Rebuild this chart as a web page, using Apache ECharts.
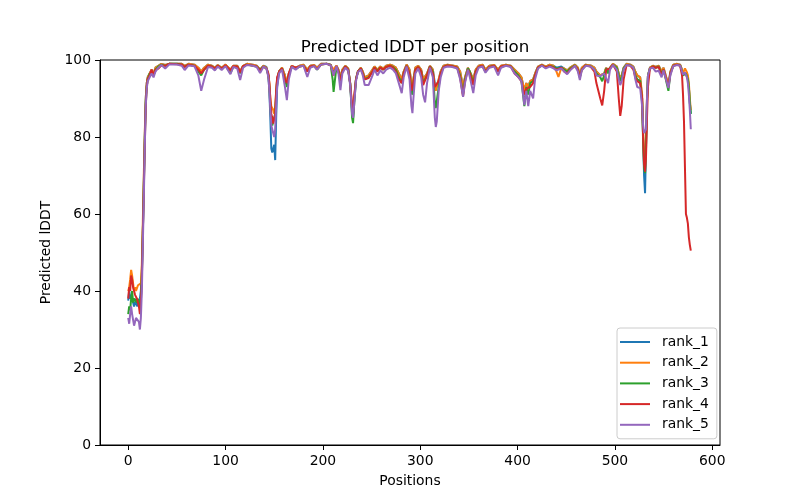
<!DOCTYPE html>
<html>
<head>
<meta charset="utf-8">
<script src="https://cdn.jsdelivr.net/npm/echarts@6/dist/echarts.min.js"></script>
<style>html,body{margin:0;padding:0;background:#fff;}#c{width:800px;height:500px;}</style>
</head>
<body>
<div id="c"></div>
<script>
const positions = [
0,1,2,3,4,5,6,7,8,9,
10,11,12,13,14,15,16,17,18,19,
20,22,24,26,28,31,34,38,42,50,
55,58,62,68,72,75,78,82,86,89,
92,96,100,105,108,112,115,118,122,128,
132,135.5,139,142,144,145,146,147,148,149,
150,151,152,153,155,158,161,163,165,168,
172,176,180,184,187,191,194,198,204,208,
210,211,212,214,216,218,220,223,226,228,
230,231,232,234,236,239,241,243,245,247,
249,251,253,256,259,262,265,269,272,275,
278,281,283,286,289,291,292,293,295,298,
301,303,305,307,310,313,315,316,317,319,
321,324,328,333,338,341,344,346,349,351,
354.5,357,360,364,367,371,376,380,383,388,
393,397,401,404,407,409,411,413,416,418,
421,425,429,433,437,440,442,445,448,451,
454,459,462,464,466,470,475,479,481,483,
485,487,489,491,493,495,498,502,504,505.5,
507,509,512,516,519,521,523,526,528,529,
530,531,532,533,534,536,539,542,545,548,
550,552,555,557,560,564,567,569,570,571,
572,573,574,575,576,577,578
];
const rank_1 = [
37.5,40,38,39,38,37,36,37,38,36,
36,37,38,40,45,55,68,80,90,94,
95.5,96.5,97.5,96.5,98,98.5,99,98.7,99,99,
99,98.5,99,98.8,98,97,98,98.8,98.5,98,
98.7,98,98.8,97.5,98.5,98.5,97,98.5,99,98.8,
98.5,97.5,98.5,98.2,96,92,85,77,76,77,
78,74,85,93,97,98,96,94,96.5,98.5,
98,98.5,98.8,97.5,98.5,98.7,98,99,99,98.8,
97.5,96.5,97.5,98.5,97.5,95.5,97.5,98.5,97.8,94,
87,85,89,95,97,98,97,95.5,95,96,
95.5,97.5,98.3,97.5,98.3,97.8,98.5,98.8,98.5,98,
96.5,95,97,98.8,97.5,94,93,95,98,98.5,
97.5,95,94.5,96.5,98.5,97.5,94,92.5,93,95,
97,98.5,98.8,98.6,98.3,97,93,95.5,98,97.5,
95,97.5,98.5,98.8,97.5,98.5,98.7,97.5,98.5,98.8,
98.5,97.5,96.5,95.5,92,94,93,94.5,95,96.5,
98.3,98.8,98.3,98.8,98.5,98,97.8,98.3,97.8,97.3,
98,98.8,98,96,98,98.8,98.6,98,97,96.5,
96,95.5,96.5,98,97,98,99,98.3,96.5,95,
96,98,99,98.8,98.3,97,96,95.5,90,80,
70,65.4,78,90,96,98,98.5,98.2,98.5,97,
98,97.5,93.5,97,98.8,99,98.8,97.5,96.5,96.5,
96.5,96.5,96,95,93,89,86
];
const rank_2 = [
40,41,43,45.5,44,42,40,41,40,40.5,
41.5,41,41,42,47,58,70,81,90,94,
95.5,96.5,97.5,96.5,98,98.5,99,98.7,99,99,
99,98.5,99,98.8,98,97,98,98.8,98.5,98,
98.7,98,98.8,97.5,98.5,98.5,97,98.5,99,98.8,
98.5,97.5,98.5,98,96,94,90,88,88.5,87,
86,88,92,95,97,98,96,94,96.5,98.5,
98,98.5,98.8,97.5,98.5,98.7,98,99,99,98.8,
97.5,97,97.5,98.5,97.5,95.5,97.5,98.5,97.8,94,
88,86,90,95,97,98,97,95.5,95,96,
95.5,97.5,98.3,97.5,98.3,97.8,98.5,98.8,98.5,98,
96.5,95,97,98.8,97.5,94,93,95,98,98.5,
97.5,95,94.5,96.5,98.5,97.5,93,92,92.5,95,
97,98.5,98.8,98.6,98.3,97,93,95.5,98,97.5,
95,97.5,98.5,98.8,97.5,98.5,98.7,97.5,98.5,98.8,
98.5,97.5,96.5,95.5,92,94,93,94.5,95,96.5,
98.3,98.8,98.3,98.8,98.5,97,95.6,98,97.8,97.3,
98,98.8,98,96,98,98.8,98.6,98,97,96.5,
96,95.5,96.5,98,97,98,99,98.3,96.5,95,
96,98,99,98.8,98.3,97,96,95.5,91,82,
74,72,80,90,96,98,98.5,98.2,98.5,97,
98,97.5,93.5,97,98.8,99,98.8,97.5,96.5,97,
97.8,97.5,96.8,96,94,90,87
];
const rank_3 = [
34,36,35,38,40,37,38,38,38,37,
38,37,36,38,44,55,67,79,89,93,
95,96.5,97,96,97.5,98.3,98.8,98.5,99,99,
98.8,98.2,98.8,98.5,97,96,97.5,98.5,98.3,97.8,
98.5,97.8,98.5,96.6,98.2,98.3,96.5,98.3,98.8,98.5,
98.3,97.5,98.3,97.8,96,93,88,84,83,84,
85,86,91,95,97,97.8,95,93,96,98.3,
97.7,98.3,98.5,97,98.2,98.5,97.5,98.8,99,98.7,
95,91.7,94,98.3,97,95,97,98.3,97.5,94,
85,83.6,88,95,97,97.8,96.5,95,94.5,95.5,
95,97,98,97.2,98,97.5,98.2,98.5,98.2,97.5,
95.5,94,96.5,98.5,96.5,92,91,94,97.5,98.2,
97,94,93.5,96,98.3,97,89,87.5,88,93,
96.5,98.2,98.6,98.4,98,96,91,95,97.8,97,
94,97,98.2,98.5,97,98.2,98.5,97,98.2,98.6,
98.3,97,96,94.5,88,93,91,94,94.5,96,
98,98.6,98,98.5,98.2,97.8,97.5,98,97.5,97,
97.8,98.6,97.5,95.5,97.5,98.6,98.4,97.5,96.5,96,
95.5,94.5,96,97.8,96.5,97.8,98.8,98,96,94.5,
95.5,97.8,98.8,98.6,98,96,95,94.5,89,79,
72,70.6,77,89,96,97.8,98.3,98,98.3,96.5,
97.5,97,92,96.5,98.5,98.8,98.6,97,96,96.5,
96.5,96.5,96,95,93,89,86
];
const rank_4 = [
38,41,40,44,43,41,40,39,39,38,
37,36,34,37,43,55,66,78,88,93,
95,96,97.5,96,97.5,97.8,98.6,98.5,99,98.9,
98.8,98.2,98.8,98.5,97.5,96.5,97.5,98.5,98.3,97.8,
98.5,97.8,98.6,97.3,98.4,98.3,96.8,98.4,98.8,98.6,
98.3,97.3,98.3,97.8,96.5,94,90,86,85,83.5,
84,86,92,95.5,97,97.8,95,94,96.5,98.4,
98,98.3,98.5,97,98.3,98.5,97.6,98.8,99,98.6,
97,96,97,98.4,97,94.5,97,98.3,97.5,94,
88,86,90,95,97,97.8,96.5,95,94.5,95.3,
95,97,98,97,98,97.5,98.2,98.5,98,97,
95,94,96.5,98.5,96.5,92,92,94,97.5,98.2,
97,93.5,93,96,98.3,96.5,93,93,93,94.5,
96.5,98.2,98.6,98.4,98,95.5,90.5,94.5,97.5,96.5,
93.5,97,98.2,98.5,97,98.2,98.5,97,98.3,98.6,
98.3,96.5,95.5,94.5,91,92.5,93,93,94,96,
98,98.6,98,98.5,98,97.5,97.5,98,97,96.5,
97.5,98.5,97.5,95.5,97.5,98.6,98.3,97,94,92,
90,88.2,92,97.5,97,97.8,98.8,97,90,85.5,
88,95,98.7,98.5,97.5,95.5,94.5,94,90,80,
73,71,75,85,93,97.8,98.3,98,98.2,96,
97.5,97,93,96.5,98.5,98.8,98.5,96,91,84,
72,60,59,57.5,54,52,50.5
];
const rank_5 = [
33,31.5,34,36,34,33.5,31,30.5,33,32.5,
33,32,30,33,40,52,64,77,88,92.5,
94.5,95.5,96.5,95.5,97,98,98.7,97.8,98.8,98.8,
98.5,97.4,98.6,98.4,96,92,95,98.2,98,97.3,
98.3,97.4,98.4,96.3,98.2,97.8,94.8,98,98.7,98.5,
98.2,96.6,98.3,97.8,95.5,92,87,83,82,81,
80,82,88,93,96.5,97.5,93,89.6,95,98.2,
97.5,98.3,98.5,95.6,98,98.4,97.5,98.8,99,98.6,
97,96,96.5,98.4,96.5,92.2,96.5,98,97.2,93.5,
86,85,88,94.5,96.8,97.5,96,93.5,93,93.5,
93,96,97.5,96,97.3,96.5,97.5,98,97.5,96.5,
94,91.4,95.5,98.3,95,88,86.2,90,96.5,97.8,
95.5,91,89,94,98,95.5,85,82.6,84,92,
95.5,98,98.3,98.2,97.8,95,90.4,94,97.5,95.5,
91.4,96,98,98.3,96.7,98,98.3,96,98,98.5,
98.2,96.5,95.5,94.5,88.3,92,88,92,90,95,
97.8,98.5,97.8,98.3,97.8,97.3,97.2,97.8,97,96.3,
97.3,98.5,97,94.8,97.3,98.5,98.3,97.5,96,95.5,
95.8,96,96.5,97,94,97.5,98.7,97.5,95,93.5,
94.5,97.5,98.7,98.5,98,95,93,92.7,88,83,
81,80.5,82,90,96,97.8,98,97,97.2,95.5,
97.3,96.8,92.7,96,98.4,98.7,98.5,97,96.2,96.5,
96.8,96.5,95.5,94,91,87,82
];
const seriesNames = ['rank_1','rank_2','rank_3','rank_4','rank_5'];
const seriesValues = [rank_1, rank_2, rank_3, rank_4, rank_5];
const colors = ['#1f77b4','#ff7f0e','#2ca02c','#d62728','#9467bd'];
const xTicks = [0,100,200,300,400,500,600];

seriesValues.forEach((arr, k) => {
  if (arr.length !== positions.length) throw new Error(seriesNames[k] + ' length ' + arr.length + ' vs ' + positions.length);
});

const FONT = 'DejaVu Sans';
const chart = echarts.init(document.getElementById('c'), null, {renderer: 'canvas'});
chart.setOption({
  animation: false,
  backgroundColor: '#fff',
  color: colors,
  title: {
    text: 'Predicted lDDT per position',
    left: 410, top: 34, textAlign: 'center',
    textStyle: {fontFamily: FONT, fontSize: 16.7, fontWeight: 'normal', color: '#000'}
  },
  grid: {left: 100, right: 80, top: 60, bottom: 55, show: true, borderColor: '#000', borderWidth: 1, backgroundColor: 'transparent'},
  xAxis: {
    type: 'value', min: -29, max: 608,
    name: 'Positions', nameLocation: 'middle', nameGap: 29,
    nameTextStyle: {fontFamily: FONT, fontSize: 13.9, color: '#000'},
    axisLine: {show: true, onZero: false, lineStyle: {color: '#000', width: 1}},
    axisTick: {show: true, length: 5, lineStyle: {color: '#000'}, customValues: xTicks},
    axisLabel: {fontFamily: FONT, fontSize: 13.9, color: '#000', margin: 9, customValues: xTicks},
    splitLine: {show: false}
  },
  yAxis: {
    type: 'value', min: 0, max: 100, interval: 20,
    name: 'Predicted lDDT', nameLocation: 'middle', nameGap: 39,
    nameTextStyle: {fontFamily: FONT, fontSize: 13.9, color: '#000'},
    axisLine: {show: true, onZero: false, lineStyle: {color: '#000', width: 1}},
    axisTick: {show: true, length: 5, lineStyle: {color: '#000'}},
    axisLabel: {fontFamily: FONT, fontSize: 13.9, color: '#000', margin: 9},
    splitLine: {show: false}
  },
  legend: {
    orient: 'vertical', left: 617, top: 328,
    padding: [7, 8, 7, 3],
    itemWidth: 30, itemHeight: 2, itemGap: 6.7,
    icon: 'rect',
    backgroundColor: 'rgba(255,255,255,0.8)',
    borderColor: '#cccccc', borderWidth: 1, borderRadius: 3,
    textStyle: {fontFamily: FONT, fontSize: 13.9, color: '#000', lineHeight: 14, padding: [0, 0, 0, 7]},
    data: seriesNames
  },
  series: seriesNames.map((name, k) => ({
    name: name, type: 'line', showSymbol: false, symbol: 'none',
    lineStyle: {width: 2, color: colors[k]},
    itemStyle: {color: colors[k]},
    z: 2 + k,
    data: positions.map((p, i) => [p, seriesValues[k][i]])
  }))
});
</script>
</body>
</html>
